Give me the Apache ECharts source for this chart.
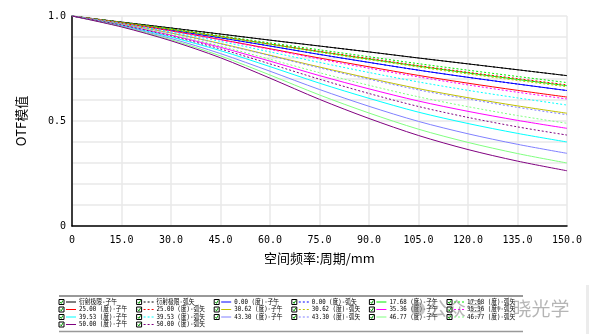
<!DOCTYPE html>
<html>
<head>
<meta charset="utf-8">
<script src="https://cdn.jsdelivr.net/npm/echarts@6/dist/echarts.min.js"></script>
<style>
  html, body { margin: 0; padding: 0; background: #fff; }
  #chart { width: 589px; height: 334px; }
</style>
</head>
<body>
<div id="chart"></div>
<script>
// Spatial frequency samples (cycles/mm)
const freq = [0, 15, 30, 45, 60, 75, 90, 105, 120, 135, 150];

// OTF modulus per field (T = tangential/子午, S = sagittal/弧矢)
const diffT  = [1, 0.971, 0.943, 0.914, 0.885, 0.857, 0.829, 0.800, 0.772, 0.744, 0.716];
const diffS  = [1, 0.971, 0.943, 0.914, 0.885, 0.857, 0.829, 0.800, 0.772, 0.744, 0.716];
const f000T  = [1, 0.967, 0.933, 0.896, 0.857, 0.817, 0.779, 0.742, 0.708, 0.676, 0.645];
const f000S  = [1, 0.967, 0.933, 0.896, 0.857, 0.817, 0.779, 0.742, 0.708, 0.676, 0.645];
const f1768T = [1, 0.969, 0.937, 0.902, 0.866, 0.830, 0.795, 0.761, 0.729, 0.698, 0.668];
const f1768S = [1, 0.969, 0.939, 0.906, 0.872, 0.839, 0.806, 0.773, 0.742, 0.712, 0.683];
const f2500T = [1, 0.966, 0.929, 0.888, 0.844, 0.800, 0.758, 0.717, 0.680, 0.646, 0.614];
const f2500S = [1, 0.969, 0.937, 0.903, 0.867, 0.832, 0.798, 0.764, 0.732, 0.702, 0.672];
const f3062T = [1, 0.962, 0.919, 0.869, 0.813, 0.757, 0.704, 0.654, 0.611, 0.572, 0.537];
const f3062S = [1, 0.968, 0.936, 0.901, 0.864, 0.827, 0.792, 0.757, 0.724, 0.693, 0.663];
const f3536T = [1, 0.958, 0.909, 0.851, 0.785, 0.716, 0.653, 0.595, 0.546, 0.503, 0.465];
const f3536S = [1, 0.965, 0.928, 0.886, 0.841, 0.795, 0.751, 0.710, 0.672, 0.637, 0.605];
const f3953T = [1, 0.955, 0.900, 0.835, 0.759, 0.680, 0.608, 0.542, 0.488, 0.441, 0.400];
const f3953S = [1, 0.964, 0.924, 0.879, 0.829, 0.779, 0.731, 0.686, 0.646, 0.610, 0.576];
const f4330T = [1, 0.952, 0.893, 0.821, 0.737, 0.650, 0.570, 0.498, 0.439, 0.389, 0.346];
const f4330S = [1, 0.962, 0.918, 0.867, 0.811, 0.753, 0.699, 0.648, 0.605, 0.565, 0.530];
const f4677T = [1, 0.950, 0.887, 0.810, 0.719, 0.624, 0.538, 0.461, 0.398, 0.345, 0.300];
const f4677S = [1, 0.960, 0.912, 0.857, 0.794, 0.730, 0.670, 0.615, 0.568, 0.526, 0.489];
const f5000T = [1, 0.948, 0.882, 0.801, 0.704, 0.603, 0.512, 0.431, 0.364, 0.309, 0.263];
const f5000S = [1, 0.957, 0.905, 0.843, 0.772, 0.699, 0.631, 0.569, 0.517, 0.472, 0.433];

const seriesNames = [
  '衍射极限-子午', '衍射极限-弧矢',
  '0.00 (度)-子午', '0.00 (度)-弧矢',
  '17.68 (度)-子午', '17.68 (度)-弧矢',
  '25.00 (度)-子午', '25.00 (度)-弧矢',
  '30.62 (度)-子午', '30.62 (度)-弧矢',
  '35.36 (度)-子午', '35.36 (度)-弧矢',
  '39.53 (度)-子午', '39.53 (度)-弧矢',
  '43.30 (度)-子午', '43.30 (度)-弧矢',
  '46.77 (度)-子午', '46.77 (度)-弧矢',
  '50.00 (度)-子午', '50.00 (度)-弧矢'
];
const seriesData = [
  diffT, diffS, f000T, f000S, f1768T, f1768S, f2500T, f2500S,
  f3062T, f3062S, f3536T, f3536S, f3953T, f3953S,
  f4330T, f4330S, f4677T, f4677S, f5000T, f5000S
];

// One colour per field; tangential solid, sagittal dotted
const fieldColors = ['#000000', '#0000ff', '#00ee00', '#ff0000', '#c0c000',
                     '#ff00ff', '#00ffff', '#8080ff', '#80ff80', '#800080'];
const DOT = [2, 2];

const series = seriesData.map((vals, i) => ({
  name: seriesNames[i],
  type: 'line',
  data: freq.map((f, k) => [f, vals[k]]),
  smooth: 0.3,
  symbol: 'none',
  silent: true,
  lineStyle: {
    color: fieldColors[Math.floor(i / 2)],
    width: 1,
    type: i % 2 === 1 ? DOT : 'solid'
  },
  z: 2 + i
}));

// Legend panel drawn as graphic elements: checkbox, line sample, label
const legendLeft = 59, legendCol = 77.6, legendTop = 302, legendRow = 7.5;
const legendElems = [];
legendElems.push({ type: 'line', shape: { x1: 59, y1: 296, x2: 523, y2: 296 },
  style: { stroke: '#333', lineWidth: 1 } });
legendElems.push({ type: 'line', shape: { x1: 59, y1: 331.5, x2: 523, y2: 331.5 },
  style: { stroke: '#999', lineWidth: 1.5 } });
seriesNames.forEach((name, i) => {
  const x = legendLeft + (i % 6) * legendCol;
  const y = legendTop + Math.floor(i / 6) * legendRow;
  legendElems.push({ type: 'rect', shape: { x: x, y: y - 2.5, width: 5, height: 5 },
    style: { fill: '#fff', stroke: '#000', lineWidth: 1 } });
  legendElems.push({ type: 'polyline', shape: { points: [[x + 1.2, y], [x + 2.3, y + 1.4], [x + 4, y - 1.6]] },
    style: { stroke: '#009900', lineWidth: 1, fill: null } });
  legendElems.push({ type: 'line', shape: { x1: x + 7, y1: y, x2: x + 17, y2: y },
    style: { stroke: fieldColors[Math.floor(i / 2)], lineWidth: 1,
             lineDash: i % 2 === 1 ? DOT : null } });
  legendElems.push({ type: 'text', x: x + 20, y: y, scaleX: 0.82,
    style: { text: name, fill: '#000', fontSize: 7,
             fontFamily: '"DejaVu Sans Mono", "Noto Sans CJK SC", monospace',
             verticalAlign: 'middle', align: 'left' } });
});

// Faint account mark over the legend's right side
legendElems.push({ type: 'circle', shape: { cx: 418, cy: 309, r: 7 },
  style: { fill: 'rgba(130,130,130,0.45)' }, z: 50 });
legendElems.push({ type: 'text', x: 428, y: 309,
  style: { text: '公众号 · 晓光学', fill: 'rgba(120,120,120,0.55)', fontSize: 19,
           fontFamily: '"Noto Sans CJK SC", sans-serif', verticalAlign: 'middle' }, z: 50 });
legendElems.push({ type: 'rect', shape: { x: 586, y: 285, width: 3, height: 49 },
  style: { fill: '#ececec' } });

const chart = echarts.init(document.getElementById('chart'), null, { renderer: 'canvas' });
chart.setOption({
  animation: false,
  backgroundColor: '#fff',
  grid: { left: 72, right: 22, top: 16, bottom: 108 },
  xAxis: {
    type: 'value', min: 0, max: 150, interval: 15,
    name: '空间频率:周期/mm', nameLocation: 'middle', nameGap: 26,
    nameTextStyle: { color: '#000', fontSize: 13, fontFamily: '"Noto Sans CJK SC", sans-serif' },
    axisLine: { show: true, lineStyle: { color: '#000', width: 1.5 } },
    axisTick: { show: false },
    axisLabel: {
      color: '#000', fontSize: 10, margin: 9,
      fontFamily: '"DejaVu Sans Mono", monospace',
      formatter: v => v === 0 ? '0' : v.toFixed(1)
    },
    splitLine: { show: true, lineStyle: { color: '#e8e8e8', width: 1.5 } }
  },
  yAxis: {
    type: 'value', min: 0, max: 1, interval: 0.1,
    name: 'OTF模值', nameLocation: 'middle', nameGap: 44, nameRotate: 90,
    nameTextStyle: { color: '#000', fontSize: 13, fontFamily: '"Noto Sans CJK SC", sans-serif' },
    axisLine: { show: true, lineStyle: { color: '#000', width: 1.5 } },
    axisTick: { show: false },
    axisLabel: {
      color: '#000', fontSize: 10, margin: 6,
      fontFamily: '"DejaVu Sans Mono", monospace',
      formatter: v => {
        if (Math.abs(v) < 1e-6) return '0';
        if (Math.abs(v - 0.5) < 1e-6) return '0.5';
        if (Math.abs(v - 1) < 1e-6) return '1.0';
        return '';
      }
    },
    splitLine: { show: true, lineStyle: { color: '#e8e8e8', width: 1.5 } }
  },
  series: series,
  graphic: { elements: legendElems }
});
</script>
</body>
</html>
